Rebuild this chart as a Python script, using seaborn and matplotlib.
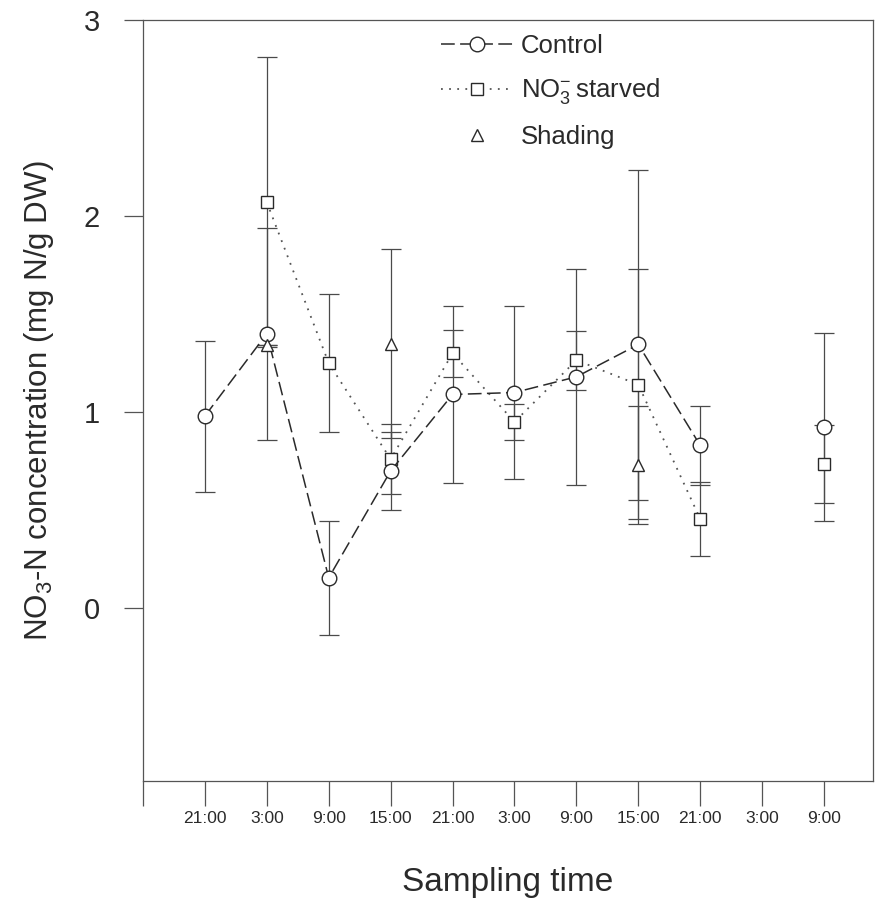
import numpy as np
import pandas as pd
import matplotlib
matplotlib.use("Agg")
import matplotlib.pyplot as plt
import seaborn as sns
from matplotlib.lines import Line2D

# ---------------------------------------------------------------
# Data (positions 1..11 on the time axis)
# ---------------------------------------------------------------
times = ["21:00", "3:00", "9:00", "15:00", "21:00", "3:00",
         "9:00", "15:00", "21:00", "3:00", "9:00"]

control     = [0.98, 1.40, 0.155, 0.70, 1.09, 1.10, 1.18, 1.345, 0.83, np.nan, 0.925]
control_err = [0.385, 0.54, 0.29, 0.20, 0.45, 0.44, 0.55, 0.89, 0.20, np.nan, 0.48]

starved     = [np.nan, 2.07, 1.25, 0.76, 1.30, 0.95, 1.265, 1.14, 0.455, np.nan, 0.735]
starved_err = [np.nan, 0.74, 0.35, 0.18, 0.12, 0.09, 0.15, 0.59, 0.19, np.nan, 0.20]

shading     = [np.nan, 1.34, np.nan, 1.35, np.nan, np.nan, np.nan, 0.73, np.nan, np.nan, np.nan]
shading_err = [np.nan, 0.0, np.nan, 0.48, np.nan, np.nan, np.nan, 0.30, np.nan, np.nan, np.nan]


def to_frame(values, errs):
    # one row per sampling time; a missing value splits the line into segments
    df = pd.DataFrame({"pos": np.arange(1, len(values) + 1),
                       "value": values, "err": errs})
    df["seg"] = df["value"].isna().cumsum()
    return df.dropna(subset=["value"])


df_control = to_frame(control, control_err)
df_starved = to_frame(starved, starved_err)
df_shading = to_frame(shading, shading_err)

# ---------------------------------------------------------------
# Style
# ---------------------------------------------------------------
sns.set_style("ticks")
plt.rcParams["font.family"] = ["Liberation Sans", "DejaVu Sans"]
plt.rcParams["mathtext.fontset"] = "custom"
plt.rcParams["mathtext.rm"] = "Liberation Sans"
plt.rcParams["mathtext.default"] = "regular"

ink = "#2a2a2a"
bar_col = "#4a4a4a"

fig = plt.figure(figsize=(8.75, 9.01), dpi=100)
ax = fig.add_axes([0.1634, 0.1335, 0.8343, 0.8443])

# error bars first so the open markers sit on top
for df in (df_control, df_starved, df_shading):
    ax.errorbar(df["pos"], df["value"], yerr=df["err"], fmt="none",
                ecolor=bar_col, elinewidth=0.9, capsize=7, capthick=0.9, zorder=2)

control_ls = (0, (9, 3.5))
starved_ls = (0, (1, 3.5))

sns.lineplot(data=df_control, x="pos", y="value", units="seg", estimator=None,
             ax=ax, color=ink, lw=1.1, linestyle=control_ls, marker="o",
             markersize=10.5, markerfacecolor="white", markeredgecolor=ink,
             markeredgewidth=1.0, zorder=4)
sns.lineplot(data=df_starved, x="pos", y="value", units="seg", estimator=None,
             ax=ax, color="#555555", lw=1.3, linestyle=starved_ls, marker="s",
             markersize=8.5, markerfacecolor="white", markeredgecolor=ink,
             markeredgewidth=1.0, zorder=3)
sns.lineplot(data=df_shading, x="pos", y="value", units="seg", estimator=None,
             ax=ax, color=ink, linestyle="none", marker="^",
             markersize=9, markerfacecolor="white", markeredgecolor=ink,
             markeredgewidth=1.0, zorder=5)

# ---------------------------------------------------------------
# Axes
# ---------------------------------------------------------------
ax.set_xlim(0, 11.79)
ax.set_ylim(-0.88, 3)
ax.set_xticks(range(0, len(times) + 1))
ax.set_xticklabels([""] + times, fontsize=12.5, color=ink)
ax.set_yticks([0, 1, 2, 3])
ax.set_yticklabels(["0", "1", "2", "3"], fontsize=21, color=ink)
ax.tick_params(axis="x", direction="out", length=18, width=0.9, pad=4, colors="#555555",
               labelcolor=ink)
ax.tick_params(axis="y", direction="out", length=14, width=0.9, pad=17, colors="#555555",
               labelcolor=ink)
for side in ["left", "bottom", "top", "right"]:
    ax.spines[side].set_color("#555555")
    ax.spines[side].set_linewidth(0.9)

ax.set_xlabel("Sampling time", fontsize=24, color=ink, labelpad=29)
ax.set_ylabel(r"NO$_3$-N concentration (mg N/g DW)", fontsize=22.5, color=ink,
              labelpad=20)

# ---------------------------------------------------------------
# Legend
# ---------------------------------------------------------------
handles = [
    Line2D([], [], color=ink, lw=1.1, linestyle=control_ls, marker="o", markersize=10.5,
           markerfacecolor="white", markeredgecolor=ink),
    Line2D([], [], color="#555555", lw=1.3, linestyle=starved_ls, marker="s", markersize=8.5,
           markerfacecolor="white", markeredgecolor=ink),
    Line2D([], [], color=ink, linestyle="none", marker="^", markersize=8,
           markerfacecolor="white", markeredgecolor=ink),
]
labels = ["Control", r"NO$_3^{-}\,$starved", "Shading"]
ax.legend(handles, labels, loc="upper left", bbox_to_anchor=(0.377, 1.012),
          frameon=False, fontsize=18.5, handlelength=2.8, labelspacing=0.72,
          handletextpad=0.3, labelcolor=ink)

fig.savefig("out.png", dpi=100, facecolor="white")
